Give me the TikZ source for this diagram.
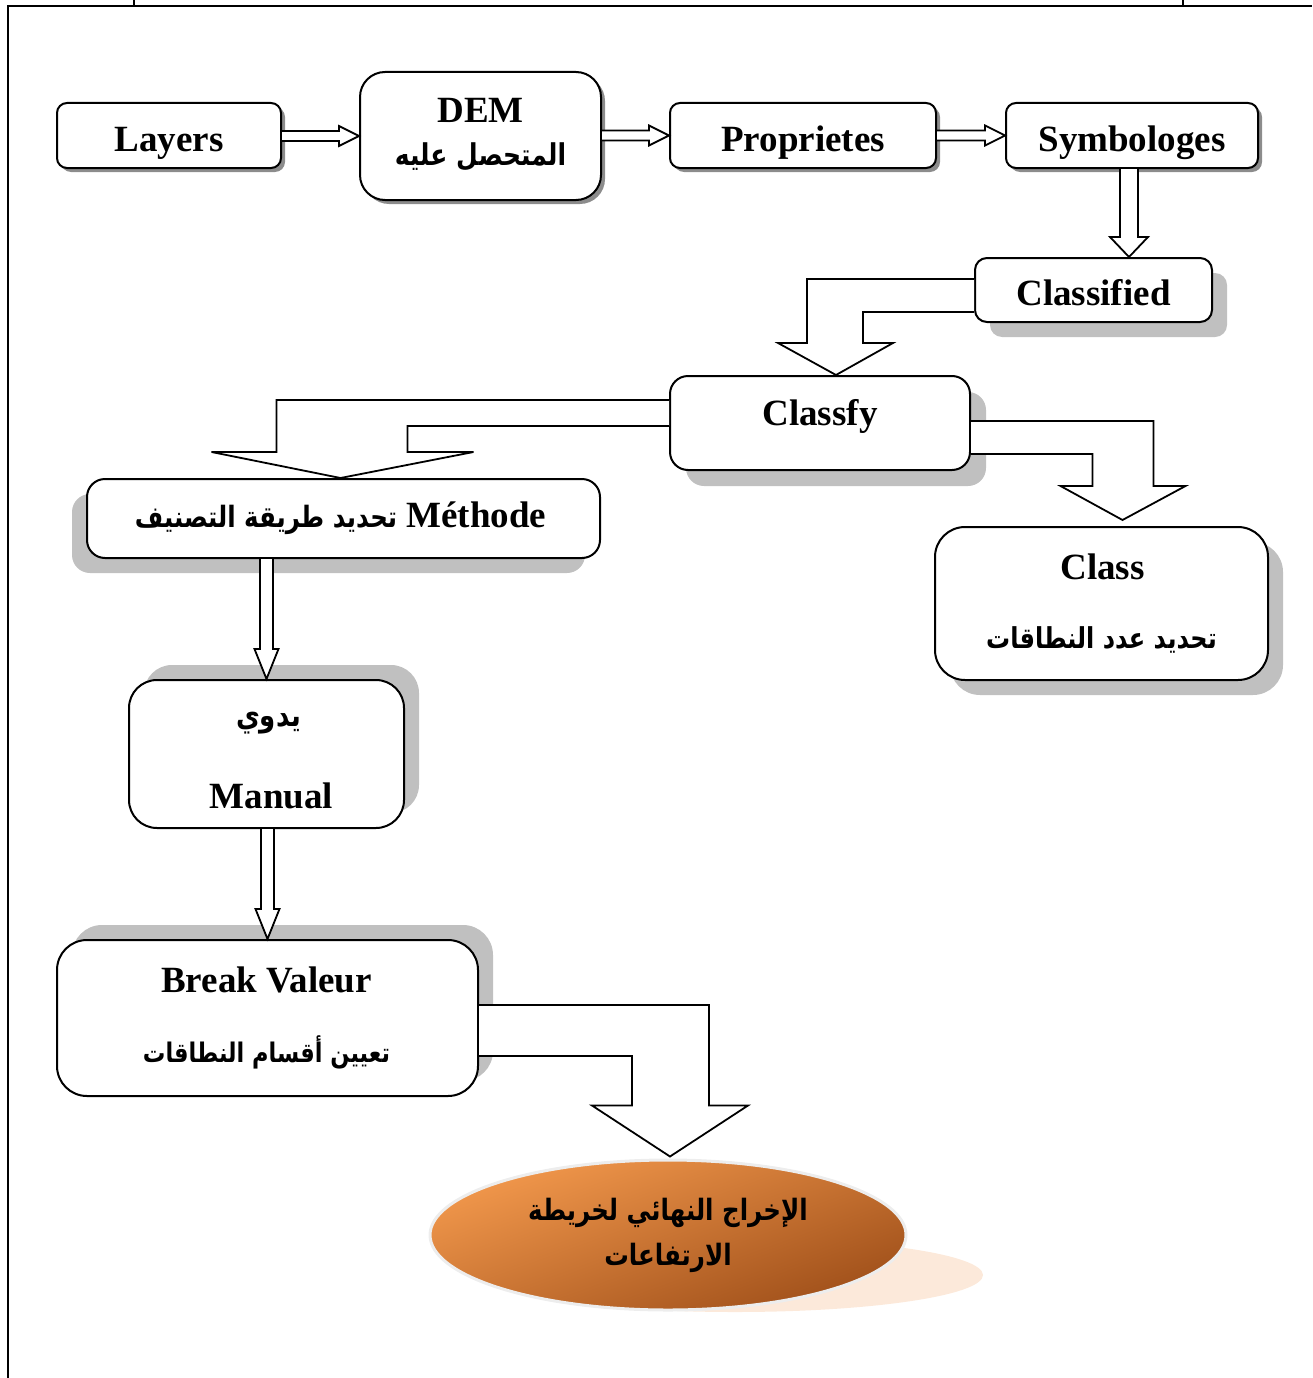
\documentclass[tikz,border=0pt]{standalone}
\usepackage{fontspec}
\usepackage{graphicx}
\setmainfont{Liberation Serif}
\newfontfamily\arabicfont[Script=Arabic]{DejaVu Sans}
\TeXXeTstate=1
\usetikzlibrary{calc,shapes.geometric,shadows}
\pgfdeclarelayer{bg}
\pgfsetlayers{bg,main}
\definecolor{shadowgray}{RGB}{192,192,192}
\definecolor{darkshadow}{RGB}{140,140,140}
\definecolor{orangelight}{RGB}{242,152,76}
\definecolor{orangedark}{RGB}{160,80,26}
\definecolor{peach}{RGB}{252,233,218}
% Arabic run at a given size, bold and slightly tall
\newcommand\artext[2]{\scalebox{1}[1.2]{\fontsize{#1}{#1}\arabicfont\bfseries #2}}
\tikzset{
  flowbox/.style={draw, line width=2pt, fill=white, inner sep=0pt, rounded corners=#1},
  smallshadow/.style={drop shadow={shadow xshift=4pt, shadow yshift=-4pt, opacity=1, fill=darkshadow}},
  bigshadow/.style 2 args={drop shadow={shadow xshift=#1, shadow yshift=#2, opacity=1, fill=shadowgray}},
  lat/.style={font=\fontsize{37}{44}\selectfont\bfseries, inner sep=0pt, text height=24.5pt, text depth=0pt},
  arb/.style={inner sep=0pt},
  hollow/.style={draw, line width=1.8pt, fill=white, line join=miter},
}
% straight hollow arrow between two boxes placed side by side
\newcommand\sidearrow[2]{%
  \draw[hollow] ($(#1.east |- #2.west)+(0,-5)$) -- ($(#2.west)+(-20,-5)$)
    -- ($(#2.west)+(-20,-10)$) -- (#2.west) -- ($(#2.west)+(-20,10)$)
    -- ($(#2.west)+(-20,5)$) -- ($(#1.east |- #2.west)+(0,5)$);}
\begin{document}
\begin{tikzpicture}[x=1pt, y=-1pt]
\useasboundingbox (0,0) rectangle (1312,1378);

% page frame
\draw[line width=2pt] (8,1378) -- (8,6) -- (1312,6);
\draw[line width=1.5pt] (134,0) -- (134,6) (1183,0) -- (1183,6);

% top row
\node[flowbox=10pt, smallshadow, minimum width=224pt, minimum height=65pt] (layers) at (169,135.5) {};
\node[flowbox=25pt, smallshadow, minimum width=241pt, minimum height=128pt] (dem) at (480.5,136) {};
\node[flowbox=10pt, smallshadow, minimum width=266pt, minimum height=65pt] (prop) at (803,135.5) {};
\node[flowbox=10pt, smallshadow, minimum width=252pt, minimum height=65pt] (symb) at (1132,135.5) {};

% middle boxes
\node[flowbox=12pt, bigshadow={15pt}{-15pt}, minimum width=237pt, minimum height=64pt] (classified) at (1093.5,290) {};
\node[flowbox=18pt, bigshadow={16pt}{-16pt}, minimum width=300pt, minimum height=94pt] (classfy) at (820,423) {};
\node[flowbox=18pt, bigshadow={-15pt}{-15pt}, minimum width=513pt, minimum height=79pt] (methode) at (343.5,518.5) {};
\node[flowbox=30pt, bigshadow={15pt}{-15pt}, minimum width=333pt, minimum height=153pt] (class) at (1101.5,603.5) {};
\node[flowbox=28pt, bigshadow={15pt}{15pt}, minimum width=275pt, minimum height=148pt] (manual) at (266.5,754) {};
\node[flowbox=30pt, bigshadow={15pt}{15pt}, minimum width=421pt, minimum height=156pt] (brk) at (267.5,1018) {};

% final output ellipse with its soft shadow
\node[ellipse, draw=black!7, line width=3pt, inner sep=0pt,
      minimum width=476pt, minimum height=150pt,
      top color=orangelight, bottom color=orangedark, shading angle=20] (final) at (668,1235) {};
\begin{pgfonlayer}{bg}
  \fill[peach] ($(final.center)+(67,40)$) ellipse [x radius=248pt, y radius=37pt];
\end{pgfonlayer}

% labels
\node[lat] at ($(layers.center)+(0,3.5)$) {Layers};
\node[lat] at ($(dem.center)+(0,-26)$) {DEM};
\node[arb] at ($(dem.center)+(0,21)$) {\artext{25}{\beginR المتحصل عليه\endR}};
\node[lat] at ($(prop.center)+(0,3.5)$) {Proprietes};
\node[lat] at ($(symb.center)+(0,3.5)$) {Symbologes};
\node[lat] at ($(classified.center)+(0,3)$) {Classified};
\node[lat] at ($(classfy.center)+(0,-10)$) {Classfy};
\node[lat] at ($(methode.center)+(-3,-3)$) {\artext{24.5}{\beginR تحديد طريقة التصنيف\endR}\ Méthode};
\node[lat] at ($(class.center)+(1,-36)$) {Class};
\node[arb] at ($(class.center)+(0,36)$) {\artext{24}{\beginR تحديد عدد النطاقات\endR}};
\node[arb] at ($(manual.center)+(2,-31)$) {\artext{26}{\beginR يدوي\endR}};
\node[lat] at ($(manual.center)+(5,42)$) {Manual};
\node[lat] at ($(brk.center)+(-1,-38)$) {Break Valeur};
\node[arb] at ($(brk.center)+(-1,34)$) {\artext{22.5}{\beginR تعيين أقسام النطاقات\endR}};
\node[arb] at ($(final.center)+(0,-22)$) {\artext{24.5}{\beginR الإخراج النهائي لخريطة\endR}};
\node[arb] at ($(final.center)+(0,23)$) {\artext{24.5}{\beginR الارتفاعات\endR}};

% connectors along the top row
\sidearrow{layers}{dem}
\sidearrow{dem}{prop}
\sidearrow{prop}{symb}

% Symbologes down to Classified
\draw[hollow] ($(symb.south)+(-12,0)$) -- ($(symb.south)+(-12,68)$) -- ($(symb.south)+(-22,68)$)
  -- ($(symb.south |- classified.north)+(-3,0)$) -- ($(symb.south)+(16,68)$)
  -- ($(symb.south)+(6,68)$) -- ($(symb.south)+(6,0)$);

% Classified to Classfy
\draw[hollow] ($(classified.west)+(0,-11)$) -| ($(classfy.north)+(-13,-32)$)
  -- ($(classfy.north)+(-42,-32)$) -- ($(classfy.north)+(16,0)$)
  -- ($(classfy.north)+(73,-32)$) -- ($(classfy.north)+(43,-32)$)
  |- ($(classified.west)+(0,22)$);

% Classfy to Methode
\draw[hollow] ($(classfy.west)+(0,-23)$) -| ($(methode.north)+(-67,-26)$)
  -- ($(methode.north)+(-132,-26)$) -- ($(methode.north)+(-3,0)$)
  -- ($(methode.north)+(130,-26)$) -- ($(methode.north)+(64,-26)$)
  |- ($(classfy.west)+(0,3)$);

% Classfy to Class
\draw[hollow] ($(classfy.east)+(0,-2)$) -| ($(class.north)+(52,-40)$)
  -- ($(class.north)+(84,-40)$) -- ($(class.north)+(21,-6)$)
  -- ($(class.north)+(-41,-40)$) -- ($(class.north)+(-9,-40)$)
  |- ($(classfy.east)+(0,31)$);

% Methode to Manual
\draw[hollow] ($(manual.north |- methode.south)+(-6.5,0)$) -- ($(manual.north)+(-6.5,-30)$)
  -- ($(manual.north)+(-12,-30)$) -- (manual.north) -- ($(manual.north)+(12,-30)$)
  -- ($(manual.north)+(6.5,-30)$) -- ($(manual.north |- methode.south)+(6.5,0)$);

% Manual to Break Valeur
\draw[hollow] ($(brk.north |- manual.south)+(-6.5,0)$) -- ($(brk.north)+(-6.5,-30)$)
  -- ($(brk.north)+(-12,-30)$) -- (brk.north) -- ($(brk.north)+(12,-30)$)
  -- ($(brk.north)+(6.5,-30)$) -- ($(brk.north |- manual.south)+(6.5,0)$);

% Break Valeur to the final output
\draw[hollow] ($(brk.east)+(0,-13)$) -| ($(final.north)+(41,-53)$)
  -- ($(final.north)+(80,-53)$) -- ($(final.north)+(2,-2)$)
  -- ($(final.north)+(-76,-53)$) -- ($(final.north)+(-36,-53)$)
  |- ($(brk.east)+(0,38)$);
\end{tikzpicture}
\end{document}
